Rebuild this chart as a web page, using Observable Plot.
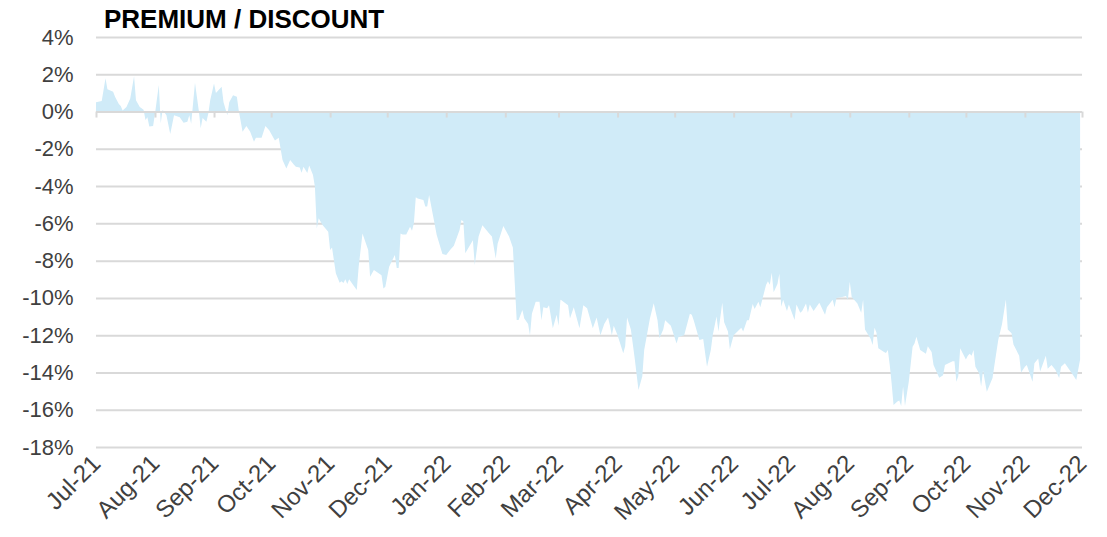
<!DOCTYPE html>
<html><head><meta charset="utf-8">
<script src="https://cdn.jsdelivr.net/npm/d3@7"></script>
<script src="https://cdn.jsdelivr.net/npm/@observablehq/plot@0.6"></script>
<style>
body{margin:0;background:#fff;}
#wrap{position:relative;width:1107px;height:537px;font-family:"Liberation Sans",Arial,sans-serif;}
#title{position:absolute;left:104px;top:3px;font-size:26px;font-weight:bold;color:#000;line-height:32px;}
</style></head><body>
<div id="wrap"><div id="title">PREMIUM / DISCOUNT</div></div>
<script>
const dates = [
"2021-07-01","2021-07-04","2021-07-06","2021-07-07","2021-07-10","2021-07-11","2021-07-13","2021-07-14","2021-07-15","2021-07-17","2021-07-19","2021-07-21","2021-07-22","2021-07-24","2021-07-26","2021-07-27","2021-07-28","2021-07-29","2021-07-31",
"2021-08-01","2021-08-03","2021-08-04","2021-08-05","2021-08-07","2021-08-09","2021-08-11","2021-08-14","2021-08-16","2021-08-18","2021-08-19","2021-08-20","2021-08-21","2021-08-22","2021-08-23","2021-08-24","2021-08-25","2021-08-26","2021-08-28","2021-08-29","2021-08-30",
"2021-09-01","2021-09-02","2021-09-05","2021-09-06","2021-09-08","2021-09-09","2021-09-11","2021-09-13","2021-09-14","2021-09-16","2021-09-18","2021-09-20","2021-09-22","2021-09-23","2021-09-26","2021-09-28","2021-09-30",
"2021-10-03","2021-10-05","2021-10-07","2021-10-09","2021-10-11","2021-10-13","2021-10-14","2021-10-16","2021-10-17","2021-10-18","2021-10-20","2021-10-21","2021-10-23","2021-10-24","2021-10-25","2021-10-26","2021-10-28","2021-10-31",
"2021-11-01","2021-11-02","2021-11-04","2021-11-06","2021-11-07","2021-11-08","2021-11-09","2021-11-10","2021-11-11","2021-11-13","2021-11-15","2021-11-16","2021-11-18","2021-11-21","2021-11-22","2021-11-24","2021-11-28","2021-11-29","2021-11-30",
"2021-12-02","2021-12-05","2021-12-06","2021-12-07","2021-12-08","2021-12-09","2021-12-11","2021-12-13","2021-12-14","2021-12-15","2021-12-16","2021-12-17","2021-12-20","2021-12-21","2021-12-22","2021-12-23","2021-12-25","2021-12-27","2021-12-30",
"2022-01-01","2022-01-03","2022-01-05","2022-01-08","2022-01-09","2022-01-10","2022-01-11","2022-01-15","2022-01-16","2022-01-18","2022-01-20","2022-01-24","2022-01-25","2022-01-27","2022-01-28","2022-01-31",
"2022-02-03","2022-02-05","2022-02-06","2022-02-07","2022-02-08","2022-02-10","2022-02-11","2022-02-13","2022-02-14","2022-02-15","2022-02-17","2022-02-19","2022-02-20","2022-02-21","2022-02-23","2022-02-24","2022-02-26","2022-02-28",
"2022-03-01","2022-03-02","2022-03-06","2022-03-07","2022-03-09","2022-03-12","2022-03-14","2022-03-16","2022-03-19","2022-03-21","2022-03-23","2022-03-25","2022-03-27","2022-03-28","2022-03-29","2022-03-30",
"2022-04-01","2022-04-04","2022-04-05","2022-04-06","2022-04-08","2022-04-10","2022-04-12","2022-04-14","2022-04-15","2022-04-18","2022-04-20","2022-04-22","2022-04-23","2022-04-25","2022-04-26","2022-04-29",
"2022-05-02","2022-05-03","2022-05-06","2022-05-09","2022-05-10","2022-05-11","2022-05-14","2022-05-16","2022-05-18","2022-05-20","2022-05-21","2022-05-23","2022-05-24","2022-05-26","2022-05-27","2022-05-29","2022-05-30",
"2022-06-01","2022-06-03","2022-06-05","2022-06-06","2022-06-08","2022-06-09","2022-06-11","2022-06-12","2022-06-14","2022-06-15","2022-06-18","2022-06-19","2022-06-20","2022-06-21","2022-06-22","2022-06-24","2022-06-25","2022-06-26","2022-06-27","2022-06-29","2022-06-30",
"2022-07-03","2022-07-04","2022-07-06","2022-07-07","2022-07-09","2022-07-10","2022-07-11","2022-07-13","2022-07-16","2022-07-19","2022-07-20","2022-07-23","2022-07-24","2022-07-25","2022-07-28","2022-07-30","2022-07-31",
"2022-08-01","2022-08-02","2022-08-05","2022-08-07","2022-08-08","2022-08-09","2022-08-12","2022-08-13","2022-08-14","2022-08-15","2022-08-16","2022-08-19","2022-08-20","2022-08-21","2022-08-22","2022-08-23","2022-08-24","2022-08-26","2022-08-27","2022-08-28","2022-08-29","2022-08-30",
"2022-09-01","2022-09-03","2022-09-04","2022-09-05","2022-09-07","2022-09-10","2022-09-11","2022-09-13","2022-09-14","2022-09-17","2022-09-19","2022-09-20","2022-09-24","2022-09-25","2022-09-26","2022-09-27","2022-09-28",
"2022-10-01","2022-10-02","2022-10-03","2022-10-04","2022-10-05","2022-10-06","2022-10-08","2022-10-09","2022-10-10","2022-10-12","2022-10-15","2022-10-16","2022-10-18","2022-10-20","2022-10-22","2022-10-23","2022-10-25","2022-10-26","2022-10-29","2022-10-30",
"2022-11-01","2022-11-02","2022-11-05","2022-11-06","2022-11-08","2022-11-09","2022-11-12","2022-11-13","2022-11-14","2022-11-15","2022-11-17","2022-11-19","2022-11-20","2022-11-22","2022-11-24","2022-11-26","2022-11-28","2022-11-30"
];
const premium = [
0.5,0.56,1.78,1.19,1.06,0.8,0.4,0.3,0.05,0.25,0.7,1.9,0.6,0.25,0.1,-0.45,-0.3,-0.8,-0.78,
-0.1,1.42,-0.63,0.1,-0.2,-1.2,-0.2,-0.3,-0.6,-0.55,-0.2,-0.65,0.44,1.55,0.8,0.05,-0.9,-0.35,-0.55,-0.1,0.6,
1.5,1.0,1.33,0.5,-0.2,0.5,0.88,0.8,0.05,-1.08,-0.78,-1.08,-1.62,-1.4,-1.4,-0.77,-1.0,
-1.55,-1.4,-2.6,-3.05,-2.6,-2.85,-2.96,-3.0,-3.28,-2.96,-3.3,-2.9,-3.4,-4.03,-6.27,-5.73,-6.09,-6.45,
-7.43,-7.3,-8.68,-9.18,-9.1,-9.2,-9.0,-9.25,-9.0,-9.3,-9.58,-8.33,-6.54,-7.43,-8.86,-8.5,-8.78,-9.49,-9.4,
-8.33,-7.7,-8.4,-8.4,-6.54,-6.6,-6.6,-6.18,-6.4,-6.0,-4.6,-4.66,-4.75,-5.1,-5.1,-4.48,-5.55,-6.63,-7.64,
-7.7,-7.43,-7.2,-6.36,-5.82,-5.9,-7.6,-6.9,-8.24,-6.7,-6.1,-6.6,-6.7,-7.88,-7.1,-6.14,
-6.7,-7.29,-9.22,-11.19,-11.19,-10.65,-11.1,-11.4,-12.0,-10.85,-10.2,-10.2,-11.2,-10.5,-10.55,-10.4,-11.63,-10.9,
-11.5,-10.08,-10.4,-11.1,-10.5,-11.63,-10.4,-10.55,-11.63,-11.05,-12.0,-11.4,-11.05,-11.5,-12.0,-11.5,
-12.0,-12.97,-12.6,-11.05,-11.7,-13.24,-14.94,-14.2,-12.8,-11.1,-10.29,-11.2,-12.17,-11.7,-11.2,-11.5,
-12.44,-12.1,-12.0,-10.85,-10.9,-11.2,-12.26,-12.2,-13.69,-12.8,-12.0,-11.0,-11.8,-10.26,-11.3,-11.8,-12.76,
-12.0,-11.8,-11.6,-11.8,-11.2,-11.2,-10.33,-10.6,-10.2,-10.5,-9.31,-9.1,-9.3,-8.65,-9.7,-9.25,-8.7,-10.47,-10.1,-10.7,-10.35,
-11.19,-10.35,-10.8,-10.7,-10.3,-10.8,-10.35,-10.7,-10.26,-10.9,-10.5,-10.1,-10.5,-10.0,-9.95,-9.9,-10.1,
-9.13,-9.95,-10.3,-10.8,-10.1,-11.69,-12.2,-12.53,-11.6,-11.86,-12.7,-12.9,-12.95,-12.8,-13.6,-14.6,-15.75,-15.56,-15.5,-15.8,-14.75,-15.8,
-14.5,-12.62,-12.44,-12.08,-12.8,-13.0,-12.6,-12.9,-13.6,-14.28,-14.15,-13.6,-13.4,-13.4,-14.5,-14.2,-12.7,
-13.3,-13.1,-13.0,-13.1,-12.8,-13.7,-14.05,-14.75,-13.9,-15.03,-14.3,-13.6,-12.26,-11.4,-10.08,-11.7,-11.9,-12.5,-13.1,-14.0,
-13.7,-13.6,-14.5,-13.5,-13.25,-13.95,-13.1,-13.8,-13.7,-13.6,-13.85,-14.3,-13.7,-13.5,-13.8,-14.1,-14.4,-13.3
];
const yTicks = [4,2,0,-2,-4,-6,-8,-10,-12,-14,-16,-18];
const monthTicks = ["2021-07-01","2021-08-01","2021-09-01","2021-10-01","2021-11-01","2021-12-01","2022-01-01","2022-02-01","2022-03-01","2022-04-01","2022-05-01","2022-06-01","2022-07-01","2022-08-01","2022-09-01","2022-10-01","2022-11-01","2022-12-01"];
const monthLabels = ["Jul-21","Aug-21","Sep-21","Oct-21","Nov-21","Dec-21","Jan-22","Feb-22","Mar-22","Apr-22","May-22","Jun-22","Jul-22","Aug-22","Sep-22","Oct-22","Nov-22","Dec-22"];

const data = dates.map((d, i) => ({date: new Date(d), value: premium[i]}));
const ticks = monthTicks.map(d => new Date(d));
const labelOf = new Map(ticks.map((t, i) => [+t, monthLabels[i]]));

const chart = Plot.plot({
  width: 1107,
  height: 537,
  marginLeft: 96,
  marginRight: 25,
  marginTop: 37,
  marginBottom: 90,
  style: {fontFamily: "'Liberation Sans', Arial, sans-serif", fontSize: "22px", color: "#404040", background: "white"},
  x: {type: "utc", domain: [ticks[0], ticks[ticks.length - 1]], label: null},
  y: {domain: [-18, 4], label: null},
  marks: [
    Plot.gridY(yTicks, {stroke: "#d9d9d9", strokeOpacity: 1, strokeWidth: 2}),
    Plot.areaY(data, {x: "date", y: "value", fill: "#d0ebf8"}),
    Plot.ruleY([0], {stroke: "#d9d9d9", strokeWidth: 2}),
    Plot.ruleX(ticks, {x: d => d, y1: 0, y2: 0, insetBottom: -6, stroke: "#d9d9d9", strokeWidth: 2}),
    Plot.axisY(yTicks, {tickSize: 0, tickPadding: 23, tickFormat: d => `${d}%`, fontSize: 22, label: null}),
    Plot.axisX(ticks, {anchor: "bottom", tickSize: 0, tickPadding: 12, tickRotate: -45, tickFormat: d => labelOf.get(+d), fontSize: 24, label: null})
  ]
});
document.getElementById("wrap").appendChild(chart);
</script>
</body></html>
